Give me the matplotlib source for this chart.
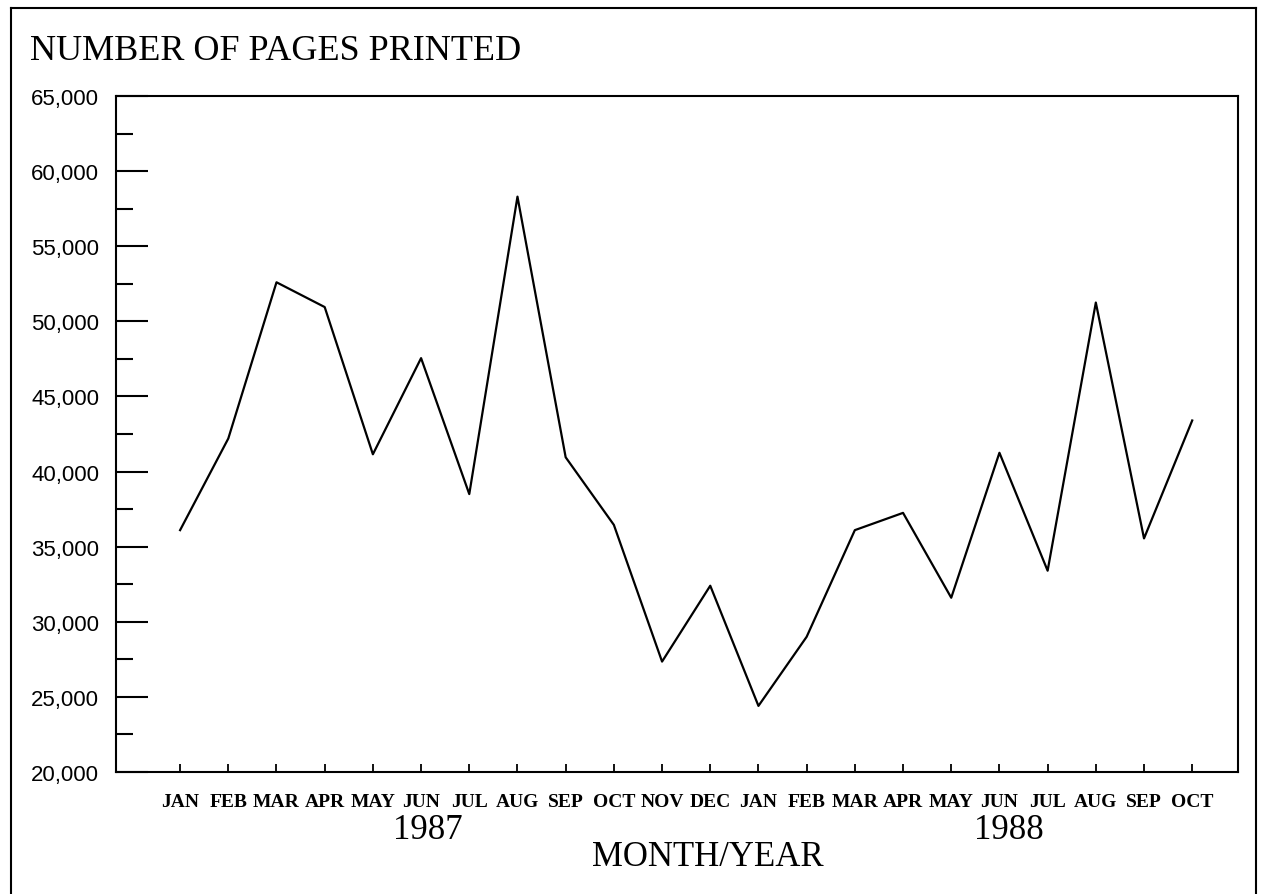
import numpy as np
import matplotlib
matplotlib.use("Agg")
import matplotlib.pyplot as plt
from matplotlib.lines import Line2D
from matplotlib.ticker import MultipleLocator, FuncFormatter

# monthly pages printed, Jan 1987 - Oct 1988
months = ['JAN', 'FEB', 'MAR', 'APR', 'MAY', 'JUN', 'JUL', 'AUG', 'SEP', 'OCT', 'NOV', 'DEC',
          'JAN', 'FEB', 'MAR', 'APR', 'MAY', 'JUN', 'JUL', 'AUG', 'SEP', 'OCT']
pages_1987 = [36100, 42200, 52600, 50950, 41150, 47550, 38500, 58300, 40950, 36450, 27350, 32400]
pages_1988 = [24400, 29000, 36100, 37250, 31600, 41250, 33400, 51250, 35550, 43400]
years = ['1987', '1988']

pages = pages_1987 + pages_1988
x = np.arange(len(months))

W, H = 1264, 895
fig = plt.figure(figsize=(W / 100, H / 100), dpi=100)
ax = fig.add_axes([116 / W, 1 - 773 / H, (1238 - 116) / W, (773 - 97) / H])

ax.plot(x, pages, color='black', lw=1.6)

ax.set_xlim(-1.33, 21.95)
ax.set_ylim(20000, 65000)

ax.yaxis.set_major_locator(MultipleLocator(5000))
ax.yaxis.set_minor_locator(MultipleLocator(2500))
ax.yaxis.set_major_formatter(FuncFormatter(lambda v, p: '{:,.0f}'.format(v)))
ax.tick_params(axis='y', which='major', direction='in', length=23, width=1.5, pad=12,
               labelsize=16, right=False)
ax.tick_params(axis='y', which='minor', direction='in', length=12, width=1.5, right=False)
for t in ax.get_yticklabels():
    t.set_fontfamily('Liberation Sans')

ax.set_xticks(x)
ax.set_xticklabels(months, fontfamily='Liberation Serif', fontweight='bold', fontsize=14)
ax.tick_params(axis='x', direction='in', length=6, width=1.3, pad=15, top=False)

for s in ax.spines.values():
    s.set_linewidth(1.5)

# year labels under the month row
ax.text(5.15, -0.085, years[0], transform=ax.get_xaxis_transform(), ha='center', va='center',
        fontsize=25, fontfamily='Liberation Serif')
ax.text(17.2, -0.085, years[1], transform=ax.get_xaxis_transform(), ha='center', va='center',
        fontsize=25, fontfamily='Liberation Serif')

fig.text(708 / W, 1 - 858 / H, 'MONTH/YEAR', ha='center', va='center', fontsize=25,
         fontfamily='Liberation Serif')
fig.text(30 / W, 1 - 52 / H, 'NUMBER OF PAGES PRINTED', ha='left', va='center', fontsize=26,
         fontfamily='Liberation Serif')

# outer frame (bottom edge is cut off in the original)
l, r, t = 11 / W, 1256 / W, 1 - 9 / H
for xs, ys in [([l, l], [0, t]), ([l, r], [t, t]), ([r, r], [t, 0])]:
    fig.add_artist(Line2D(xs, ys, transform=fig.transFigure, color='black', lw=1.5))

fig.savefig('out.png', dpi=100)
